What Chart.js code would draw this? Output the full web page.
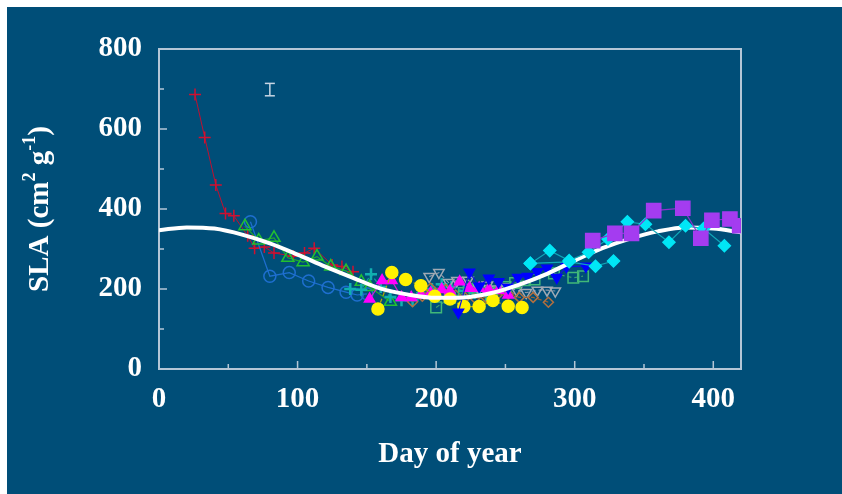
<!DOCTYPE html>
<html><head><meta charset="utf-8">
<script src="https://cdn.jsdelivr.net/npm/chart.js@4.4.1/dist/chart.umd.min.js"></script>
<style>
html,body{margin:0;padding:0;background:#fff;width:842px;height:494px;overflow:hidden}
#bg{position:absolute;left:7px;top:7px;right:0;bottom:0;background:#004E78}
#wrap{position:absolute;left:0;top:0;width:842px;height:494px}
</style></head><body>
<div id="bg"></div>
<div id="wrap"><canvas id="c" width="842" height="494"></canvas></div>
<script>
// ---- data (day of year, SLA cm2 g-1) ----
const xTicks = [0, 100, 200, 300, 400];
const yTicks = [0, 200, 400, 600, 800];

const fitDays = [0, 20, 40, 60, 80, 100, 120, 140, 160, 180, 200, 220, 240, 260, 280, 300, 320, 340, 360, 380, 400, 420];
const fitSLA  = [347, 354, 351, 336, 314, 286, 256, 228, 201, 186, 178, 179, 190, 211, 238, 271, 302, 326, 344, 354, 351, 342];

const redDays = [26, 33, 41, 48, 54, 64, 69, 76, 83, 97, 105, 112, 125, 132, 140];
const redSLA  = [686, 579, 460, 389, 383, 333, 302, 305, 290, 282, 290, 302, 260, 256, 243];

const circDays = [66, 80, 94, 108, 122, 135, 143, 150];
const circSLA  = [368, 232, 241, 220, 204, 192, 185, 188];

const triDays = [62, 72, 83, 93, 104, 114, 124, 135, 146, 152, 167];
const triSLA  = [357, 321, 328, 278, 267, 281, 256, 245, 218, 205, 168];

const tealDays = [138, 146, 153, 160, 167, 175, 183, 190, 197, 204, 211, 220, 228, 236];
const tealSLA  = [200, 198, 237, 205, 180, 172, 172, 190, 200, 212, 205, 195, 190, 185];

const yelDays = [158, 168, 178, 189, 199, 210, 220, 231, 241, 252, 262];
const yelSLA  = [150, 241, 224, 208, 182, 175, 156, 156, 171, 157, 154];

const magDays = [152, 161, 168, 175, 182, 189, 196, 204, 210, 217, 224, 231, 238, 245, 252];
const magSLA  = [175, 221, 221, 179, 179, 185, 190, 199, 195, 218, 202, 202, 199, 197, 185];

const bdtDays = [216, 224, 231, 238, 245, 252, 259, 266, 273, 280, 287, 294, 308];
const bdtSLA  = [142, 242, 207, 227, 218, 204, 229, 231, 243, 252, 229, 256, 257];

const grayDays = [195, 202, 209, 215, 223, 230, 237, 244, 251, 258, 265, 273, 280, 286];
const graySLA  = [231, 241, 216, 221, 222, 205, 210, 200, 205, 197, 191, 197, 197, 195];

const brnDays = [183, 190, 196, 207, 214, 221, 228, 236, 244, 252, 260, 270, 281];
const brnSLA  = [168, 182, 202, 199, 185, 178, 177, 179, 185, 188, 179, 179, 167];

const sqDays = [200, 210, 220, 230, 240, 250, 257, 264, 271, 285, 299, 306];
const sqSLA  = [154, 178, 190, 200, 190, 205, 215, 222, 224, 239, 228, 232];

const cyanDays = [268, 282, 296, 310, 324, 338, 351, 368, 380, 393, 408];
const cyanSLA  = [264, 296, 271, 292, 325, 368, 362, 317, 358, 351, 308];

const cyan2Days = [268, 296, 315, 328];
const cyan2SLA  = [264, 268, 257, 270];

const purDays = [313, 329, 341, 357, 378, 391, 399, 412, 419];
const purSLA  = [321, 339, 339, 396, 402, 327, 372, 375, 358];

const errDays = [80, 80];
const errSLA  = [683, 714];

// ---- helpers ----
const pts = (xs, ys) => xs.map((d, i) => ({x: d, y: ys[i]}));
const FONT = 'Liberation Serif, Times New Roman, serif';
const AXIS = '#B4C6D6';

function series(xs, ys, o) {
  return Object.assign({
    type: 'line', data: pts(xs, ys), showLine: true, tension: 0,
    borderWidth: 1.2, pointBorderWidth: 1.5, pointRadius: 5
  }, o);
}

const datasets = [
  series(errDays, errSLA, {borderColor: '#C8D6E4', borderWidth: 1.5, pointStyle: 'line', pointRadius: 5, pointBorderColor: '#C8D6E4', pointBorderWidth: 1.5, order: 0}),
  series(purDays, purSLA, {borderColor: '#8A30D0', pointStyle: 'rect', pointRadius: 10, pointBackgroundColor: '#A43CF0', pointBorderColor: '#A43CF0', order: 1}),
  series(cyanDays, cyanSLA, {borderColor: '#10A8B8', pointStyle: 'rectRot', pointRadius: 6, pointBackgroundColor: '#00E6F6', pointBorderColor: '#00E6F6', order: 2}),
  series(cyan2Days, cyan2SLA, {borderColor: '#10A8B8', pointStyle: 'rectRot', pointRadius: 6, pointBackgroundColor: '#00E6F6', pointBorderColor: '#00E6F6', order: 3}),
  series(fitDays, fitSLA, {borderColor: '#FFFFFF', borderWidth: 4, pointRadius: 0, tension: 0.4, cubicInterpolationMode: 'monotone', order: 4}),
  series(bdtDays, bdtSLA, {borderColor: '#1010E0', pointStyle: 'triangle', rotation: 180, pointRadius: 6, pointBackgroundColor: '#0000FF', pointBorderColor: '#0000FF', order: 5}),
  series(yelDays, yelSLA, {borderColor: '#B8A800', borderDash: [4, 3], pointStyle: 'circle', pointRadius: 6, pointBackgroundColor: '#FFF200', pointBorderColor: '#FFF200', order: 6}),
  series(magDays, magSLA, {borderColor: '#D020D0', pointStyle: 'triangle', pointRadius: 6, pointBackgroundColor: '#FF00FF', pointBorderColor: '#FF00FF', order: 7}),
  series(sqDays, sqSLA, {borderColor: '#3AA070', borderDash: [4, 3], pointStyle: 'rect', pointRadius: 7.5, pointBackgroundColor: 'transparent', pointBorderColor: '#40B878', order: 8}),
  series(brnDays, brnSLA, {borderColor: '#9A6030', borderDash: [4, 3], pointStyle: 'rectRot', pointRadius: 5, pointBackgroundColor: 'transparent', pointBorderColor: '#B07040', order: 9}),
  series(grayDays, graySLA, {borderColor: '#8898A8', borderDash: [4, 3], pointStyle: 'triangle', rotation: 180, pointRadius: 6, pointBackgroundColor: 'transparent', pointBorderColor: '#A0AAB4', order: 10}),
  series(tealDays, tealSLA, {borderColor: '#10A0A0', borderDash: [4, 3], pointStyle: 'cross', pointRadius: 6, pointBorderWidth: 2.5, pointBorderColor: '#10B0B0', order: 11}),
  series(triDays, triSLA, {borderColor: '#20A830', pointStyle: 'triangle', pointRadius: 7, pointBackgroundColor: 'transparent', pointBorderColor: '#22C030', order: 12}),
  series(circDays, circSLA, {borderColor: '#1E6FD0', pointStyle: 'circle', pointRadius: 6, pointBackgroundColor: 'transparent', pointBorderColor: '#1E6FD0', order: 13}),
  series(redDays, redSLA, {borderColor: '#C01030', borderWidth: 1, pointStyle: 'cross', pointRadius: 6, pointBorderColor: '#D01030', order: 14})
];

const frame = {
  id: 'frame',
  beforeDatasetsDraw(chart) {
    const {ctx, chartArea: a, scales: {x, y}} = chart;
    ctx.save();
    ctx.strokeStyle = AXIS;
    ctx.lineWidth = 2;
    ctx.strokeRect(a.left, a.top, a.right - a.left, a.bottom - a.top);
    ctx.lineWidth = 1.5;
    ctx.beginPath();
    for (let v = 100; v < 800; v += 100) {
      const py = y.getPixelForValue(v);
      const len = v % 200 === 0 ? 8 : 5;
      ctx.moveTo(a.left, py); ctx.lineTo(a.left + len, py);
    }
    for (let d = 50; d <= 400; d += 50) {
      const px = x.getPixelForValue(d);
      const len = d % 100 === 0 ? 8 : 5;
      ctx.moveTo(px, a.bottom); ctx.lineTo(px, a.bottom - len);
    }
    ctx.stroke();
    ctx.restore();
  },
  afterDraw(chart) {
    // y-axis title with superscripts
    const {ctx, chartArea: a} = chart;
    const big = 'bold 29px ' + FONT, small = 'bold 18px ' + FONT;
    const parts = [['SLA (cm', big, 0], ['2', small, -11], [' g', big, 0], ['-1', small, -11], [')', big, 0]];
    ctx.save();
    let total = 0;
    parts.forEach(p => { ctx.font = p[1]; total += ctx.measureText(p[0]).width; });
    ctx.translate(40, (a.top + a.bottom) / 2);
    ctx.rotate(-Math.PI / 2);
    ctx.fillStyle = '#FFFFFF';
    ctx.textBaseline = 'middle';
    let xx = -total / 2;
    parts.forEach(p => { ctx.font = p[1]; ctx.fillText(p[0], xx, p[2] + 1); xx += ctx.measureText(p[0]).width; });
    ctx.restore();
  }
};

new Chart(document.getElementById('c'), {
  type: 'line',
  data: {datasets},
  options: {
    responsive: false,
    animation: false,
    layout: {padding: {left: 0, right: 101, top: 49, bottom: 0}},
    plugins: {legend: {display: false}, tooltip: {enabled: false}},
    scales: {
      x: {
        type: 'linear', min: 0, max: 420,
        grid: {display: false, drawTicks: false},
        border: {display: false},
        afterBuildTicks: s => { s.ticks = xTicks.map(v => ({value: v})); },
        ticks: {color: '#FFFFFF', font: {family: FONT, size: 29, weight: 'bold'}, padding: 13, maxRotation: 0, autoSkip: false},
        title: {display: true, text: 'Day of year', color: '#FFFFFF', font: {family: FONT, size: 29, weight: 'bold'}, padding: {top: 0, bottom: 22}},
        afterFit: s => { s.height = 125; }
      },
      y: {
        type: 'linear', min: 0, max: 800,
        grid: {display: false, drawTicks: false},
        border: {display: false},
        afterBuildTicks: s => { s.ticks = yTicks.map(v => ({value: v})); },
        ticks: {color: '#FFFFFF', font: {family: FONT, size: 29, weight: 'bold'}, padding: 17, autoSkip: false},
        afterFit: s => { s.width = 159; }
      }
    }
  },
  plugins: [frame]
});
</script>
</body></html>
